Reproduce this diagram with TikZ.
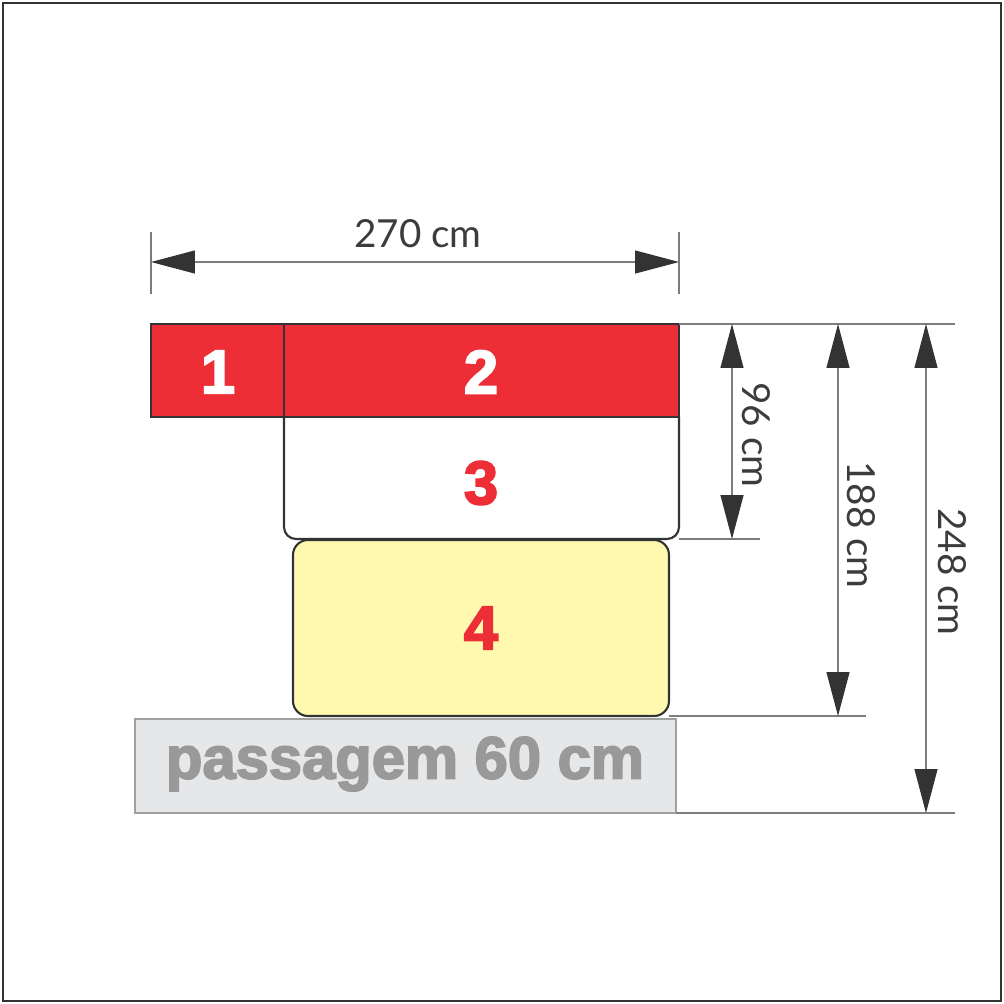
\documentclass[tikz,border=0pt]{standalone}
\usepackage{fontspec}
\usetikzlibrary{arrows.meta}
\setmainfont{Lato}
\newfontfamily\dimfont{Lato}
\newfontfamily\heavyfont[FakeBold=3]{Liberation Sans Bold}

\definecolor{redbox}{RGB}{237,46,54}
\definecolor{yellowbox}{RGB}{255,249,176}
\definecolor{passfill}{RGB}{230,231,232}
\definecolor{passline}{RGB}{160,160,160}
\definecolor{passtext}{RGB}{153,153,153}
\definecolor{boxline}{RGB}{51,51,51}
\definecolor{dimgray}{RGB}{125,125,125}
\definecolor{labelgray}{RGB}{60,60,60}

\begin{document}
\begin{tikzpicture}[x=0.02cm, y=-0.02cm,
  box/.style={draw=boxline, line width=1.2pt},
  dimline/.style={draw=dimgray, line width=0.7pt},
  dimarrow/.style={dimline, {Triangle[length=0.88cm,width=0.46cm,color=boxline]}-{Triangle[length=0.88cm,width=0.46cm,color=boxline]}},
  dimlabel/.style={font=\dimfont\fontsize{22}{22}\selectfont, text=labelgray, inner sep=0pt},
  num/.style={font=\heavyfont\fontsize{35}{35}\selectfont, inner sep=0pt}]

\useasboundingbox (0,0) rectangle (1004,1004);
\draw[boxline, line width=1.4pt] (3,3) rectangle (1001,1001);

% blocks
\filldraw[box, fill=redbox] (151,324) rectangle (284,417);
\filldraw[box, fill=redbox] (284,324) rectangle (679,417);
\draw[box, rounded corners=0.24cm] (284,417) -- (284,539) -- (679,539) -- (679,417);
\filldraw[box, fill=yellowbox, rounded corners=0.3cm] (293,540) rectangle (669,716);
\filldraw[draw=passline, line width=1pt, fill=passfill] (135,719) rectangle (676,813);

\node[num, text=white] (n1) at (218,372) {1};
\node[num, text=white] (n2) at (481,372) {2};
\node[num, text=redbox] (n3) at (481,483) {3};
\node[num, text=redbox] (n4) at (481,628) {4};
\node[font=\heavyfont\fontsize{34}{34}\selectfont, text=passtext, inner sep=0pt] (pass) at (405,764) {passagem 60 cm};

% extension lines
\draw[dimline] (151,232) -- (151,294);
\draw[dimline] (679,232) -- (679,294);
\draw[dimline] (679,324) -- (955,324);
\draw[dimline] (679,539) -- (760,539);
\draw[dimline] (669,716) -- (866,716);
\draw[dimline] (676,813) -- (955,813);

% dimensions
\coordinate (wl) at (151,262);
\coordinate (wr) at (679,262);
\coordinate (h1t) at (732,324);
\coordinate (h1b) at (732,539);
\coordinate (h2t) at (838,324);
\coordinate (h2b) at (838,716);
\coordinate (h3t) at (926,324);
\coordinate (h3b) at (926,813);
\draw[dimarrow] (wl) -- (wr);
\draw[dimarrow] (h1t) -- (h1b);
\draw[dimarrow] (h2t) -- (h2b);
\draw[dimarrow] (h3t) -- (h3b);

\node[dimlabel] (w) at (418,234) {270 cm};
\node[dimlabel, rotate=-90] (h1) at (756,435) {96 cm};
\node[dimlabel, rotate=-90] (h2) at (861,525) {188 cm};
\node[dimlabel, rotate=-90] (h3) at (952,572) {248 cm};

\end{tikzpicture}
\end{document}
